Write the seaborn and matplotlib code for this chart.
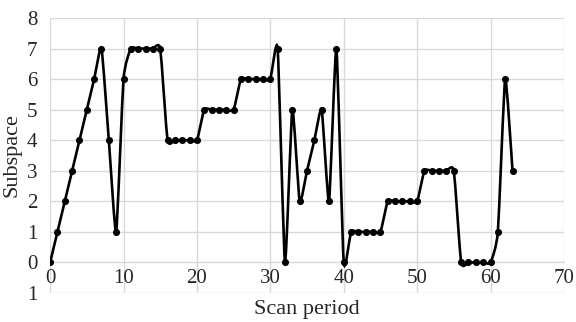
import numpy as np
import pandas as pd
import seaborn as sns
import matplotlib
matplotlib.use("Agg")
import matplotlib.pyplot as plt
from matplotlib.path import Path
from matplotlib.patches import PathPatch

scan_period = list(range(64))
subspace = [0, 1, 2, 3, 4, 5, 6, 7, 4, 1,
            6, 7, 7, 7, 7, 7, 4, 4, 4, 4,
            4, 5, 5, 5, 5, 5, 6, 6, 6, 6,
            6, 7, 0, 5, 2, 3, 4, 5, 2, 7,
            0, 1, 1, 1, 1, 1, 2, 2, 2, 2,
            2, 3, 3, 3, 3, 3, 0, 0, 0, 0,
            0, 1, 6, 3]
x_ticks = [0, 10, 20, 30, 40, 50, 60, 70]
y_ticks = [-1, 0, 1, 2, 3, 4, 5, 6, 7, 8]
y_tick_labels = ["1", "0", "1", "2", "3", "4", "5", "6", "7", "8"]


def smooth_path(xs, ys, k=0.085):
    # smoothed line like Excel: cubic Bezier segments with mild tension
    pts = np.column_stack([xs, ys]).astype(float)
    n = len(pts)
    verts = [pts[0]]
    codes = [Path.MOVETO]
    for i in range(n - 1):
        p0 = pts[i - 1] if i > 0 else pts[i]
        p1, p2 = pts[i], pts[i + 1]
        p3 = pts[i + 2] if i + 2 < n else pts[i + 1]
        c1 = p1 + (p2 - p0) * k
        c2 = p2 - (p3 - p1) * k
        verts += [c1, c2, p2]
        codes += [Path.CURVE4] * 3
    return Path(verts, codes)


def main():
    df = pd.DataFrame({"Scan period": scan_period, "Subspace": subspace})

    sns.set_style("white")
    plt.rcParams["font.family"] = ["Liberation Serif", "DejaVu Serif"]

    fig = plt.figure(figsize=(5.76, 3.22), dpi=100)
    ax = fig.add_axes([0.087, 0.09, 0.892, 0.854])

    ax.add_patch(PathPatch(smooth_path(df["Scan period"], df["Subspace"]),
                           facecolor="none", edgecolor="black", lw=1.9, zorder=3))
    sns.scatterplot(data=df, x="Scan period", y="Subspace", ax=ax, color="black",
                    s=26, edgecolor="black", linewidth=0, zorder=4)

    ax.set_xlim(0, 70)
    ax.set_ylim(-1, 8)
    ax.set_xticks(x_ticks)
    ax.set_yticks(y_ticks)
    ax.set_yticklabels(y_tick_labels)
    ax.grid(True, color="#d9d9d9", lw=1)
    ax.set_axisbelow(True)

    for side in ["top", "left", "right"]:
        ax.spines[side].set_visible(False)
    ax.spines["bottom"].set_position(("data", 0))
    ax.spines["bottom"].set_color("#d9d9d9")
    ax.tick_params(axis="both", length=0, labelsize=15)
    ax.tick_params(axis="x", pad=5)
    ax.tick_params(axis="y", pad=9)

    ax.set_xlabel("Scan period", fontsize=16)
    ax.xaxis.set_label_coords(0.5, -0.025)
    ax.set_ylabel("Subspace", fontsize=16, labelpad=4)

    fig.savefig("out.png", dpi=100)


if __name__ == "__main__":
    main()
